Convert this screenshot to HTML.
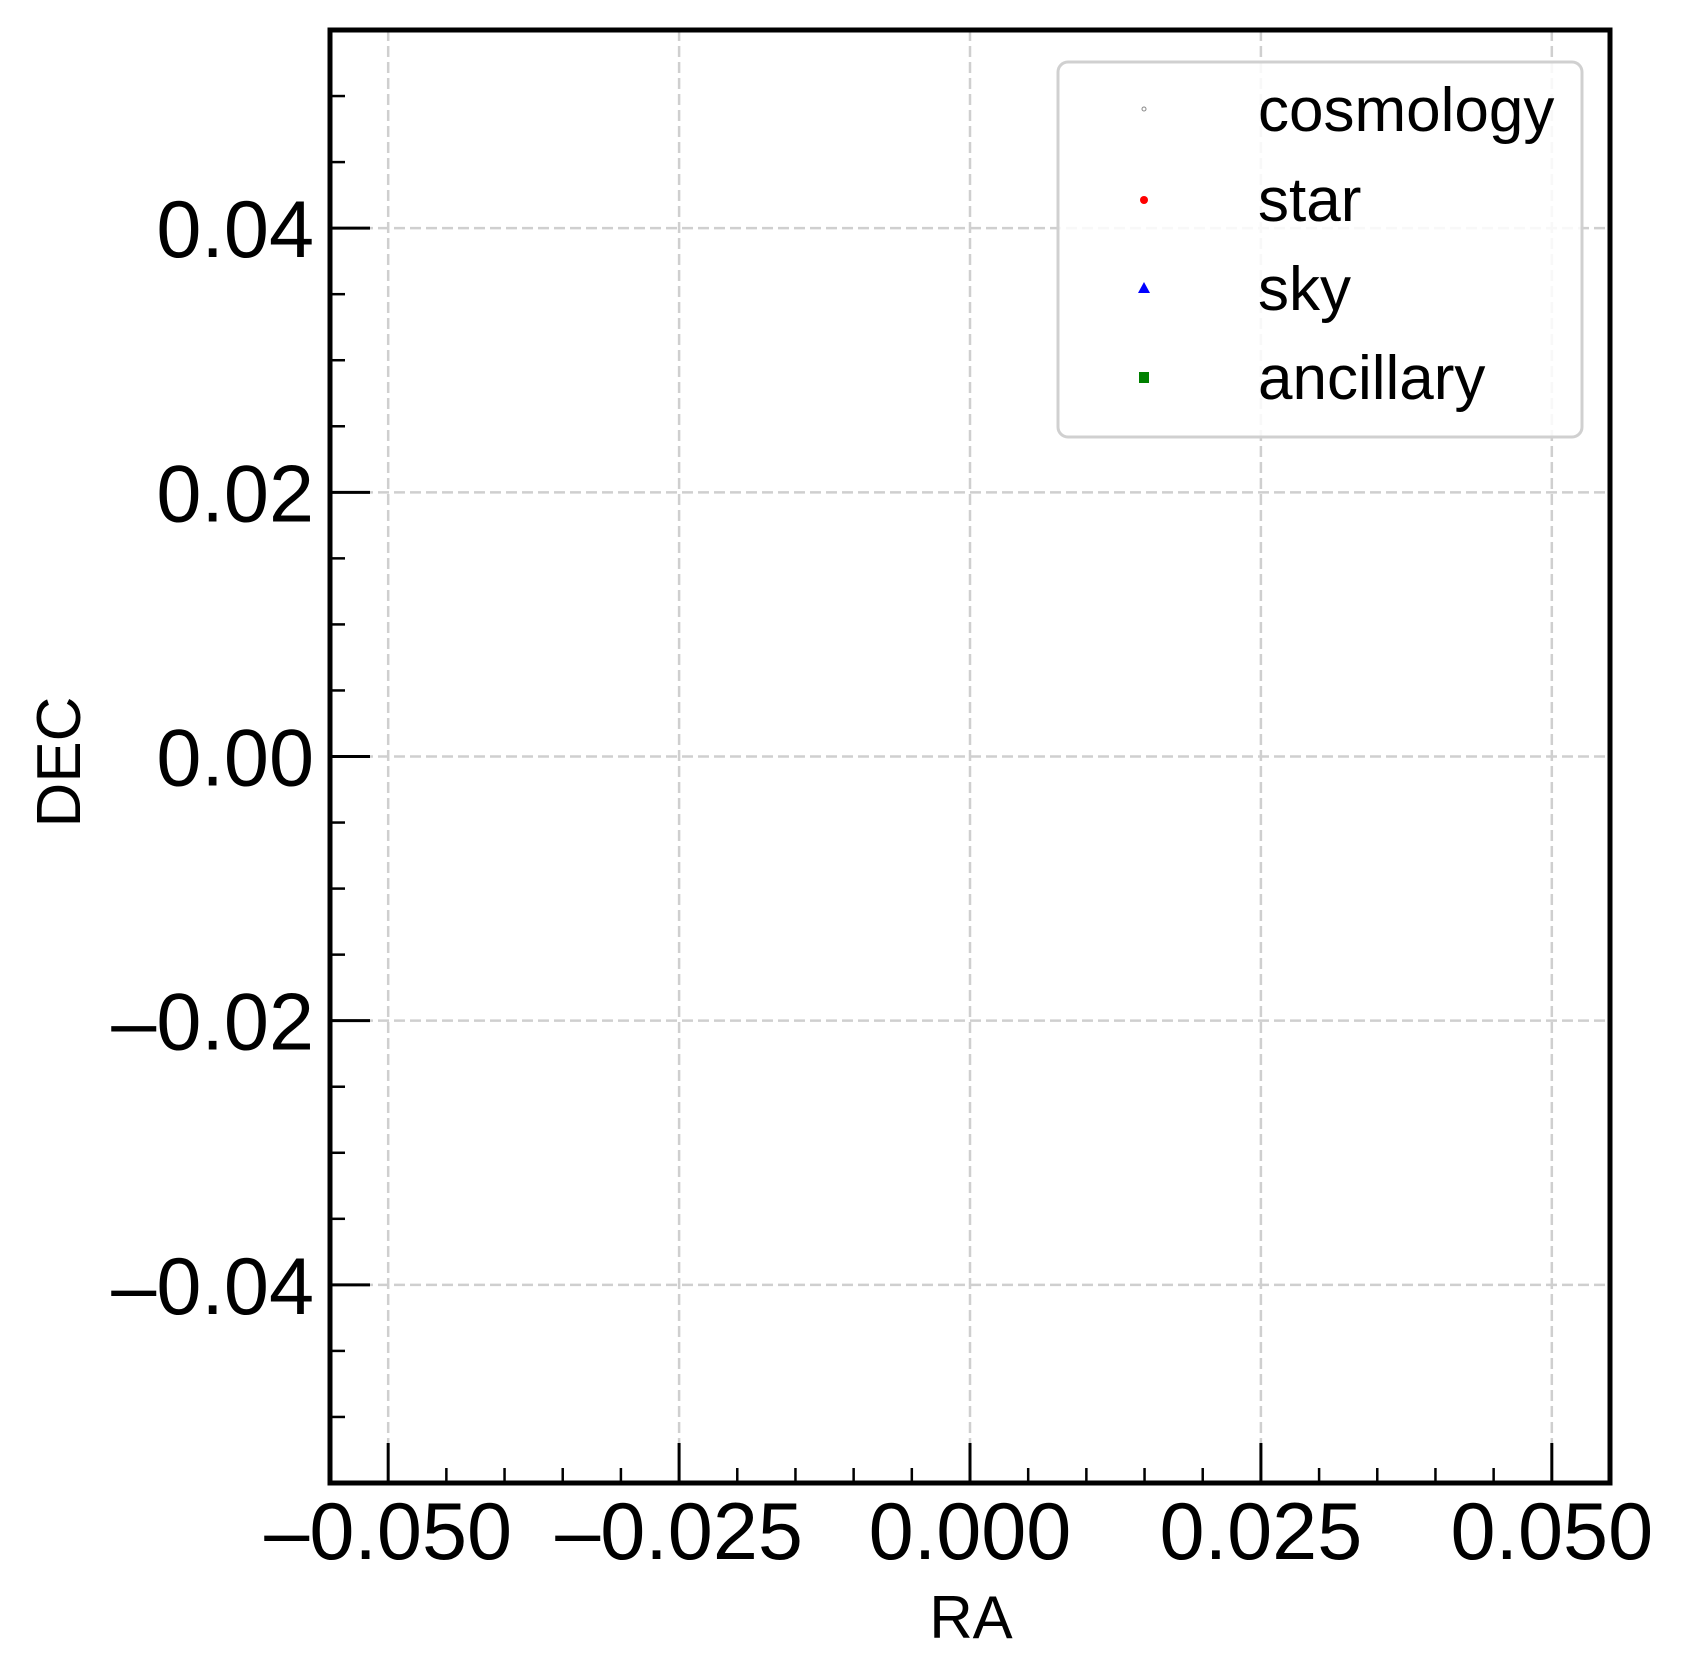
<!DOCTYPE html>
<html><head><meta charset="utf-8"><style>
html,body{margin:0;padding:0;background:#fff;}
svg{display:block;font-family:"Liberation Sans",Arial,sans-serif;}
</style></head><body>
<svg id="chart" width="1685" height="1680" viewBox="0 0 1685 1680" xmlns="http://www.w3.org/2000/svg">
<rect width="1685" height="1680" fill="#fff"/>
<g id="grid"></g>
<g id="marks"></g>
<g id="ticks"></g>
<rect x="330" y="30" width="1280" height="1453" fill="none" stroke="#000" stroke-width="5"/>
<g id="labels"></g>
<text x="971" y="1638" font-size="60" text-anchor="middle">RA</text>
<text transform="translate(80,762) rotate(-90)" font-size="62" text-anchor="middle">DEC</text>
<g id="legend">
<rect x="1058" y="62" width="524" height="375" rx="10" fill="#fff" fill-opacity="0.85" stroke="#d0d0d0" stroke-width="3"/>
</g>
</svg>
<script>
const xTicks=[-0.05,-0.025,0,0.025,0.05];
const xTickLabels=["\u20130.050","\u20130.025","0.000","0.025","0.050"];
const yTicks=[-0.04,-0.02,0,0.02,0.04];
const yTickLabels=["\u20130.04","\u20130.02","0.00","0.02","0.04"];
const xDomain=[-0.055,0.055];
const yDomain=[-0.055,0.055];
const seriesNames=["cosmology","star","sky","ancillary"];
const cosmologyRA=[];const cosmologyDEC=[];
const starRA=[];const starDEC=[];
const skyRA=[];const skyDEC=[];
const ancillaryRA=[];const ancillaryDEC=[];

const NS="http://www.w3.org/2000/svg";
const L=330,R=1610,T=30,B=1483;
function sx(v){return L+(v-xDomain[0])/(xDomain[1]-xDomain[0])*(R-L);}
function sy(v){return B-(v-yDomain[0])/(yDomain[1]-yDomain[0])*(B-T);}
function mk(tag,attrs,parent){const e=document.createElementNS(NS,tag);for(const k in attrs)e.setAttribute(k,attrs[k]);parent.appendChild(e);return e;}
const grid=document.getElementById('grid'),ticks=document.getElementById('ticks'),labels=document.getElementById('labels'),marks=document.getElementById('marks'),legend=document.getElementById('legend');
const gs={stroke:"#cfcfcf","stroke-width":2.5,"stroke-dasharray":"11,5",fill:"none"};
xTicks.forEach((v,i)=>{
  const g=mk('line',Object.assign({x1:sx(v),x2:sx(v),y1:T,y2:B},gs),grid);
  
  
  const t=mk('line',{x1:sx(v),x2:sx(v),y1:B,y2:B-40,stroke:"#000","stroke-width":3},ticks);
  
  
  const tx=mk('text',{x:sx(v),y:1559,"font-size":81,"text-anchor":"middle"},labels);
  tx.textContent=xTickLabels[i];
  
  
});
yTicks.forEach((v,i)=>{
  const g=mk('line',Object.assign({x1:L,x2:R,y1:sy(v),y2:sy(v)},gs),grid);
  
  
  const t=mk('line',{x1:L,x2:L+40,y1:sy(v),y2:sy(v),stroke:"#000","stroke-width":3},ticks);
  
  
  const tx=mk('text',{x:314,y:sy(v)+29,"font-size":81,"text-anchor":"end"},labels);
  tx.textContent=yTickLabels[i];
  
  
});
for(let k=-11;k<=11;k++){
  const v=k*0.005;
  if(k%5!==0&&v>xDomain[0]&&v<xDomain[1]){
    const t=mk('line',{x1:sx(v),x2:sx(v),y1:B,y2:B-15,stroke:"#000","stroke-width":2.5},ticks);
    
    
  }
  if(k%4!==0&&v>yDomain[0]&&v<yDomain[1]){
    const t=mk('line',{x1:L,x2:L+15,y1:sy(v),y2:sy(v),stroke:"#000","stroke-width":2.5},ticks);
    
    
  }
}
function drawSeries(ra,dec,kind){
  ra.forEach((r,i)=>{
    const x=sx(r),y=sy(dec[i]);let e;
    if(kind==='cosmology')e=mk('circle',{cx:x,cy:y,r:2,fill:"none",stroke:"#888","stroke-width":1},marks);
    else if(kind==='star')e=mk('circle',{cx:x,cy:y,r:4,fill:"red"},marks);
    else if(kind==='sky')e=mk('polygon',{points:`${x},${y-6} ${x-6},${y+5} ${x+6},${y+5}`,fill:"blue"},marks);
    else e=mk('rect',{x:x-5,y:y-5,width:10,height:10,fill:"green"},marks);
    
    
  });
}
drawSeries(cosmologyRA,cosmologyDEC,'cosmology');
drawSeries(starRA,starDEC,'star');
drawSeries(skyRA,skyDEC,'sky');
drawSeries(ancillaryRA,ancillaryDEC,'ancillary');
const legY=[109,199,288,377];
seriesNames.forEach((n,i)=>{
  const g=mk('g',{},legend);
  
  
  const x=1144,y=legY[i];let m;
  if(n==='cosmology')m=mk('circle',{cx:x,cy:y,r:2,fill:"none",stroke:"#888","stroke-width":1},g);
  else if(n==='star')m=mk('circle',{cx:x,cy:y+1,r:4,fill:"red"},g);
  else if(n==='sky')m=mk('polygon',{points:`${x},${y-6} ${x-6},${y+5} ${x+6},${y+5}`,fill:"blue"},g);
  else m=mk('rect',{x:x-5,y:y-5,width:10,height:11,fill:"green"},g);
  
  
  const t=mk('text',{x:1258,y:y+22,"font-size":62},g);
  t.textContent=n;
  
  
});
</script>
</body></html>
